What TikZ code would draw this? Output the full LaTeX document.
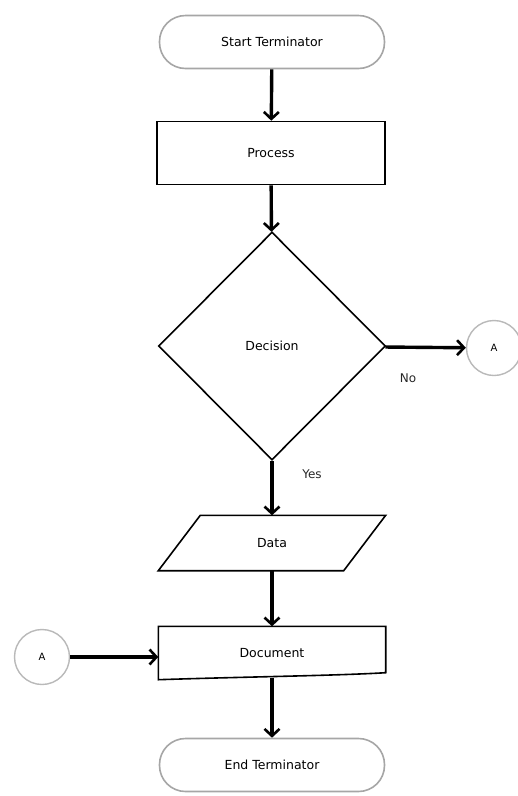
\documentclass[tikz,border=0pt]{standalone}
\usepackage{fontspec}
\setmainfont{DejaVu Sans}
\usepackage{tikz}
\usetikzlibrary{arrows.meta,positioning,shapes.geometric}
\tikzset{
  basebox/.style ={align=center, fill=white, inner sep=0pt,
                   font=\fontsize{12.5}{15}\selectfont},
  termbox/.style ={basebox, draw=gray!70, line width=1.6pt,
                   rounded corners=26pt, minimum width=225pt,
                   minimum height=53pt},
  procbox/.style ={basebox, draw, line width=1.6pt,
                   minimum width=228pt, minimum height=63pt},
  decbox/.style  ={basebox, draw, diamond, line width=1.6pt,
                   minimum width=227pt, minimum height=228pt},
  shapebox/.style={basebox, fill=none, minimum width=227pt},
  outline/.style ={line width=1.6pt, fill=white},
  conbox/.style  ={basebox, circle, draw=gray!55, line width=1.4pt,
                   minimum size=55pt, font=\fontsize{10}{12}\selectfont},
  lbl/.style     ={font=\fontsize{12}{14}\selectfont, text=black!85},
  arr/.style     ={-{Straight Barb[length=7pt,width=15pt,line width=2.6pt]},
                   line width=3.4pt},
}

\begin{document}
\begin{tikzpicture}[x=1pt,y=-1pt]
  \useasboundingbox (0,0) rectangle (518,796);
  \node[termbox] (start) at (272,42)  {Start Terminator};
  \node[procbox] (proc)  at (271,153) {Process};
  \node[decbox]  (dec)   at (272,346) {Decision};
  \node[conbox]  (ar)    at (494,348) {A};
  \node[shapebox, minimum height=55pt] (data) at (272,543) {};
  \node[shapebox, minimum height=53pt] (doc)  at (272,653) {};
  \node[conbox]  (al)    at (42,657)  {A};
  \node[termbox] (stop)  at (272,765) {End Terminator};
  \node[lbl]     (no)    at (408,378) {No};
  \node[lbl]     (yes)   at (312,474) {Yes};
  % data: slanted box
  \draw[outline] ([xshift=42pt]data.north west) -- (data.north east)
    -- ([xshift=-42pt]data.south east) -- (data.south west) -- cycle;
  \node[basebox, fill=none] (datatxt) at (data) {Data};
  % document outline with wavy bottom
  \draw[outline]
    (doc.north west) -- (doc.north east) -- ([yshift=7pt]doc.south east)
    .. controls ([xshift=-50pt,yshift=4pt]doc.south east)
    and ([xshift=90pt,yshift=3pt]doc.south west) .. (doc.south west)
    -- cycle;
  \node[basebox, fill=none] (doctxt) at (doc) {Document};
  \draw[arr] (start) -- (proc);
  \draw[arr] (proc) -- (dec);
  \draw[arr] (dec) -- (ar);
  \draw[arr] (dec) -- (data);
  \draw[arr] (data) -- (doc);
  \draw[arr] (al.east) -- (al.east -| doc.west);
  \draw[arr] ([yshift=2pt]doc.south) -- (stop);
\end{tikzpicture}
\end{document}
